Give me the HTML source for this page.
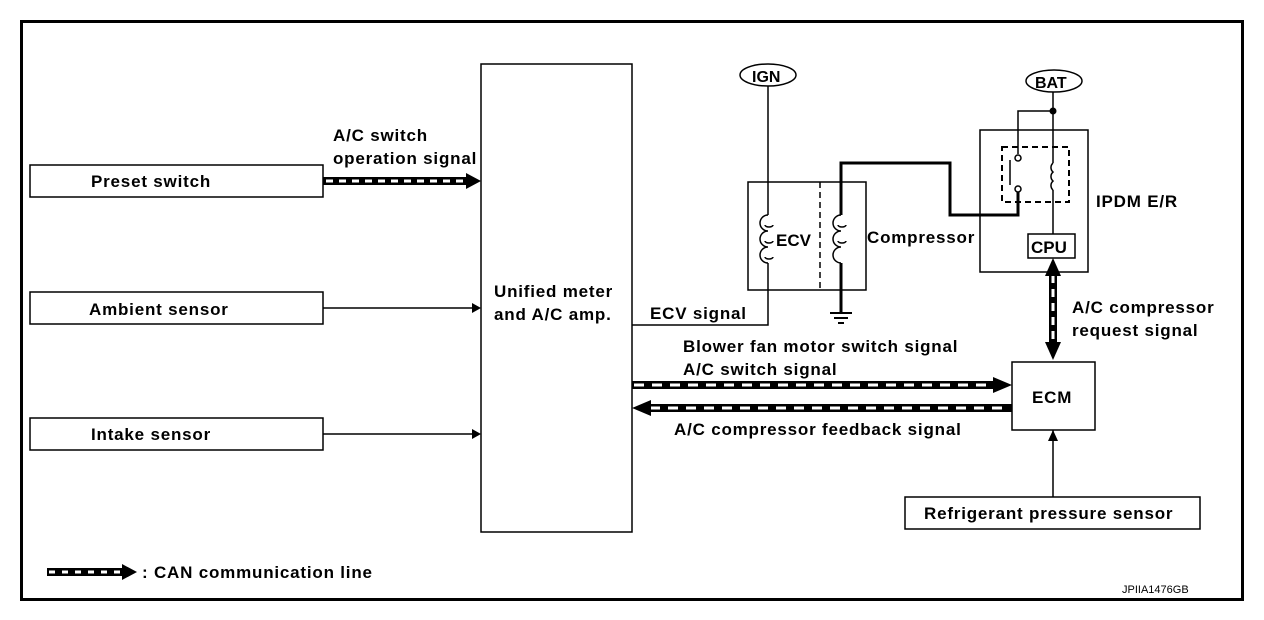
<!DOCTYPE html>
<html><head><meta charset="utf-8"><style>
body{margin:0;background:#fff}
svg{display:block}
text{font-family:"Liberation Sans",Arial,sans-serif;font-weight:bold;font-size:17px;letter-spacing:0.8px;fill:#000}
</style></head><body>
<svg width="1264" height="620" viewBox="0 0 1264 620" xmlns="http://www.w3.org/2000/svg">
<rect x="21.5" y="21.5" width="1221" height="578" fill="none" stroke="#000" stroke-width="3"/>
<g fill="none" stroke="#000" stroke-width="1.5">
<rect x="30" y="165" width="293" height="32"/>
<rect x="30" y="292" width="293" height="32"/>
<rect x="30" y="418" width="293" height="32"/>
<rect x="481" y="64" width="151" height="468"/>
<rect x="748" y="182" width="118" height="108"/>
<rect x="980" y="130" width="108" height="142"/>
<rect x="1028" y="234" width="47" height="24"/>
<rect x="1012" y="362" width="83" height="68"/>
<rect x="905" y="497" width="295" height="32"/>
<ellipse cx="768" cy="75" rx="28" ry="11"/>
<ellipse cx="1054" cy="81" rx="28" ry="11"/>
<line x1="323" y1="308" x2="472" y2="308"/>
<line x1="323" y1="434" x2="472" y2="434"/>
<polyline points="768,86 768,215"/>
<polyline points="768,263 768,325 632,325"/>
<line x1="820" y1="182" x2="820" y2="290" stroke-dasharray="6,4"/>
<rect x="1002" y="147" width="67" height="55" stroke-dasharray="6,4" stroke-width="2"/>
<line x1="1053" y1="92" x2="1053" y2="163"/>
<line x1="1053" y1="190" x2="1053" y2="234"/>
<polyline points="1053,111 1018,111 1018,154"/>
<line x1="1010" y1="160" x2="1010" y2="185"/>
<circle cx="1018" cy="158" r="3" fill="#fff"/>
<circle cx="1018" cy="189" r="3" fill="#fff"/>
<line x1="1053" y1="430" x2="1053" y2="497"/>
<path d="M768,215 a8,8 0 0 0 0,16 a8,8 0 0 0 0,16 a8,8 0 0 0 0,16"/>
<path d="M765,225 a4,2 0 0 0 8,0 M765,241 a4,2 0 0 0 8,0 M765,257 a4,2 0 0 0 8,0"/>
<path d="M841,215 a8,8 0 0 0 0,16 a8,8 0 0 0 0,16 a8,8 0 0 0 0,16"/>
<path d="M838,225 a4,2 0 0 0 8,0 M838,241 a4,2 0 0 0 8,0"/>
<path d="M1053,163 a6,6 0 0 0 0,9 a6,6 0 0 0 0,9 a6,6 0 0 0 0,9"/>
</g>
<g fill="none" stroke="#000" stroke-width="3">
<polyline points="841,263 841,312"/>
<polyline points="841,215 841,163 950,163 950,215 1018,215 1018,192"/>
<line x1="830" y1="313" x2="852" y2="313" stroke-width="2"/>
<line x1="834" y1="318" x2="848" y2="318" stroke-width="2"/>
<line x1="838" y1="323" x2="844" y2="323" stroke-width="2"/>
</g>
<circle cx="1053" cy="111" r="3.5" fill="#000"/>
<polygon points="472,303 481,308 472,313" fill="#000"/>
<polygon points="472,429 481,434 472,439" fill="#000"/>
<polygon points="1048,441 1053,430 1058,441" fill="#000"/>
<g>
<line x1="323" y1="181" x2="470" y2="181" stroke="#000" stroke-width="8"/>
<line x1="326" y1="181" x2="468" y2="181" stroke="#fff" stroke-width="3" stroke-dasharray="7,6"/>
<polygon points="466,173 481,181 466,189" fill="#000"/>
<line x1="632" y1="385" x2="998" y2="385" stroke="#000" stroke-width="8"/>
<line x1="634" y1="385" x2="994" y2="385" stroke="#fff" stroke-width="3" stroke-dasharray="10,8"/>
<polygon points="993,377 1012,385 993,393" fill="#000"/>
<line x1="646" y1="408" x2="1012" y2="408" stroke="#000" stroke-width="8"/>
<line x1="650" y1="408" x2="1010" y2="408" stroke="#fff" stroke-width="3" stroke-dasharray="10,8"/>
<polygon points="651,400 632,408 651,416" fill="#000"/>
<line x1="1053" y1="272" x2="1053" y2="346" stroke="#000" stroke-width="8"/>
<line x1="1053" y1="275" x2="1053" y2="344" stroke="#fff" stroke-width="3" stroke-dasharray="8,6"/>
<polygon points="1045,276 1053,258 1061,276" fill="#000"/>
<polygon points="1045,342 1053,360 1061,342" fill="#000"/>
<line x1="47" y1="572" x2="125" y2="572" stroke="#000" stroke-width="8"/>
<line x1="49" y1="572" x2="122" y2="572" stroke="#fff" stroke-width="3" stroke-dasharray="6,7"/>
<polygon points="122,564 137,572 122,580" fill="#000"/>
</g>
<text x="91" y="187">Preset switch</text>
<text x="89" y="315">Ambient sensor</text>
<text x="91" y="440">Intake sensor</text>
<text x="333" y="141">A/C switch</text>
<text x="333" y="164">operation signal</text>
<text x="494" y="297">Unified meter</text>
<text x="494" y="320">and A/C amp.</text>
<text x="650" y="319">ECV signal</text>
<text x="752" y="82" style="font-size:16px;letter-spacing:0">IGN</text>
<text x="1035" y="88" style="font-size:16px;letter-spacing:0">BAT</text>
<text x="776" y="246" style="letter-spacing:0">ECV</text>
<text x="867" y="243">Compressor</text>
<text x="1096" y="207">IPDM E/R</text>
<text x="1031" y="253" style="letter-spacing:0">CPU</text>
<text x="1072" y="313">A/C compressor</text>
<text x="1072" y="336">request signal</text>
<text x="683" y="352">Blower fan motor switch signal</text>
<text x="683" y="375">A/C switch signal</text>
<text x="674" y="435">A/C compressor feedback signal</text>
<text x="1032" y="403">ECM</text>
<text x="924" y="519">Refrigerant pressure sensor</text>
<text x="142" y="578">: CAN communication line</text>
<text x="1122" y="593" style="font-size:11px;font-weight:normal;letter-spacing:0">JPIIA1476GB</text>
</svg>
</body></html>
